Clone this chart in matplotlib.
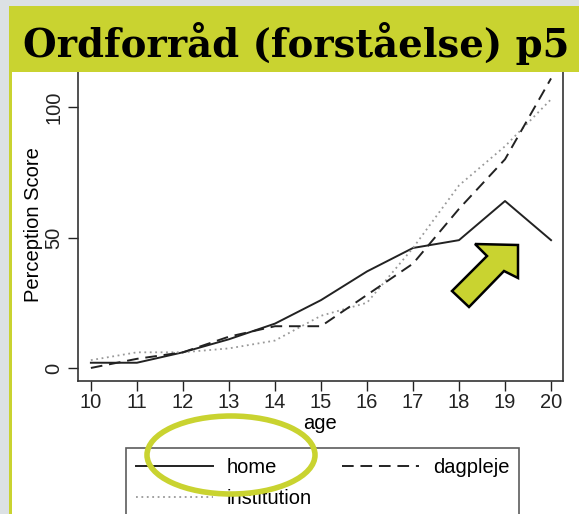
import numpy as np
import matplotlib
matplotlib.use("Agg")
import matplotlib.pyplot as plt
from matplotlib.patches import Rectangle, Ellipse, Polygon

plt.rcParams['font.family'] = ['Liberation Sans', 'DejaVu Sans']

# data
age = [10, 11, 12, 13, 14, 15, 16, 17, 18, 19, 20]
home = [2, 2, 6, 11, 17, 26, 37, 46, 49, 64, 49]
dagpleje = [0, 3.5, 6, 12, 16, 16, 28, 40, 61, 80, 111]
institution = [3, 6, 6, 7.5, 10.5, 20, 25, 46, 70, 85, 103]

title = "Ordforråd (forståelse) p5"
olive = "#c9d330"
W, H = 579, 514

fig = plt.figure(figsize=(W / 100, H / 100), dpi=100, facecolor="#dce1e4")
tr = fig.dpi_scale_trans

def px(x, y):
    # picture pixels (top-left origin) -> inches from bottom-left
    return (x / 100, (H - y) / 100)

# olive frame and white panel
fig.patches.append(Rectangle(px(9, H), (W - 9) / 100, (H - 6) / 100, transform=tr,
                             facecolor=olive, edgecolor="none", zorder=-2))
fig.patches.append(Rectangle(px(12, H), (W - 12) / 100, (H - 72) / 100, transform=tr,
                             facecolor="white", edgecolor="none", zorder=-1))

ax = fig.add_axes([78 / W, 1 - 381 / H, (563 - 78) / W, (381 - 68) / H])
ax.set_facecolor("white")

ax.plot(age, home, color="#222222", lw=1.4, label="home")
ax.plot(age, institution, color="#999999", lw=1.3, linestyle=(0, (1, 2)), label="institution")
ax.plot(age, dagpleje, color="#222222", lw=1.4, linestyle=(0, (6, 3.5)), label="dagpleje")

ax.set_xlim(9.72, 20.26)
ax.set_ylim(-5, 115)
ax.set_xticks(age)
ax.set_yticks([0, 50, 100])
ax.tick_params(axis="both", direction="out", length=7, width=1, labelsize=14.5, colors="#222222")
ax.tick_params(axis="x", pad=2)
for lab in ax.get_yticklabels():
    lab.set_rotation(90)
    lab.set_va("center")
ax.set_xlabel("age", fontsize=14.5, labelpad=1)
ax.set_ylabel("Perception Score", fontsize=14.5, labelpad=1)
for s in ax.spines.values():
    s.set_color("#333333")
    s.set_linewidth(1.2)

leg = fig.legend(handles=ax.get_lines(), ncol=2, loc="upper left",
                 bbox_to_anchor=(126 / W, 1 - 448 / H), borderaxespad=0, fontsize=14.5,
                 frameon=True, fancybox=False, edgecolor="#333333",
                 handlelength=3.8, handletextpad=0.7, columnspacing=1.5,
                 borderpad=0.5, labelspacing=0.6)
leg.get_frame().set_linewidth(1.2)

# title bar over the top of the plot
fig.patches.append(Rectangle(px(9, 72), (W - 9) / 100, (72 - 6) / 100, transform=tr,
                             facecolor=olive, edgecolor="none", zorder=5))
fig.text(23 / W, 1 - 57 / H, title, family="DejaVu Serif", weight="bold",
         fontsize=27.8, va="baseline", ha="left", color="black", zorder=6)

# highlight ellipse round the legend entry
fig.patches.append(Ellipse(px(231, 455), 168 / 100, 78 / 100, transform=tr,
                           facecolor="none", edgecolor=olive, lw=4, zorder=7))

# arrow pointing at the drop of home
arrow_pts = [(452, 291), (487, 256), (475, 244), (518, 245), (518, 278),
             (504, 271), (469, 307)]
fig.patches.append(Polygon([px(x, y) for x, y in arrow_pts], closed=True, transform=tr,
                           facecolor=olive, edgecolor="black", lw=1.8, zorder=7))

fig.savefig("out.png", dpi=100, facecolor=fig.get_facecolor())
